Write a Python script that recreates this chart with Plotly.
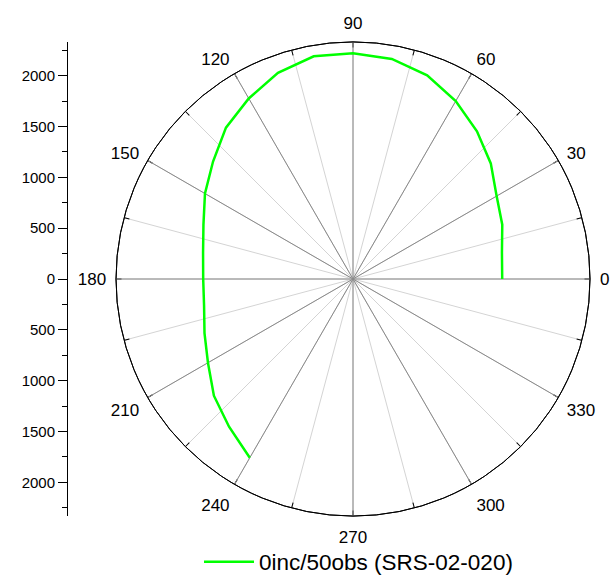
import plotly.graph_objects as go

# ---- data ----
angles = [0, 10, 20, 30, 40, 50, 60, 70, 80, 90, 100, 110, 120,
          130, 140, 150, 160, 170, 180, 190, 200, 210, 220, 230, 240]
radii = [1470, 1490, 1565, 1634, 1772, 1900, 2024, 2136, 2202, 2225, 2228, 2161, 2054,
         1947, 1800, 1684, 1568, 1500, 1476, 1490, 1557, 1650, 1789, 1900, 2034]
series_name = "0inc/50obs (SRS-02-020)"
angle_ticks = list(range(0, 360, 30))
angle_labels = [str(a) for a in angle_ticks]
radial_ticks = [-2000, -1500, -1000, -500, 0, 500, 1000, 1500, 2000]
radial_labels = [str(abs(v)) for v in radial_ticks]
radial_minor = [-2250, -1750, -1250, -750, -250, 250, 750, 1250, 1750, 2250]
r_max = 2335

W, H = 610, 577
font_family = "Liberation Sans, Arial, sans-serif"

fig = go.Figure()
# helper (invisible) so the light 15-degree grid subplot is rendered
fig.add_trace(go.Scatterpolar(r=[0], theta=[0], mode="markers", marker=dict(opacity=0),
                              showlegend=False, hoverinfo="skip", subplot="polar"))
fig.add_trace(go.Scatterpolar(
    r=radii, theta=angles, mode="lines",
    line=dict(color="#00ff00", width=2.5),
    name=series_name, subplot="polar2", showlegend=True,
))
# invisible helper so the cartesian (left radial scale) axis renders
fig.add_trace(go.Scatter(x=[0.5], y=[0], mode="markers", marker=dict(opacity=0),
                         showlegend=False, hoverinfo="skip"))

cx0, cx1 = 116 / W, 590 / W
cy0, cy1 = 1 - 516.3 / H, 1 - 41.7 / H

fig.update_layout(
    width=W, height=H,
    margin=dict(l=0, r=0, t=0, b=0, autoexpand=False),
    paper_bgcolor="white", plot_bgcolor="rgba(0,0,0,0)",
    font=dict(family=font_family, size=17, color="black"),
    showlegend=True,
    legend=dict(orientation="h", x=199 / W, xanchor="left", y=1 - 562 / H, yanchor="middle",
                font=dict(size=22.5), bgcolor="rgba(0,0,0,0)", itemwidth=50),
    polar=dict(
        domain=dict(x=[cx0, cx1], y=[cy0, cy1]),
        bgcolor="white",
        radialaxis=dict(visible=False, range=[0, r_max]),
        angularaxis=dict(rotation=0, direction="counterclockwise", dtick=15, tick0=0,
                         showgrid=True, gridcolor="#d4d4d4", gridwidth=1,
                         ticks="inside", ticklen=5, tickcolor="black",
                         showticklabels=False, showline=True, linecolor="black", linewidth=1),
    ),
    polar2=dict(
        domain=dict(x=[cx0, cx1], y=[cy0, cy1]),
        bgcolor="rgba(0,0,0,0)",
        radialaxis=dict(visible=False, range=[0, r_max]),
        angularaxis=dict(rotation=0, direction="counterclockwise",
                         tickmode="array", tickvals=angle_ticks, ticktext=angle_labels,
                         showgrid=True, gridcolor="#8a8a8a", gridwidth=1,
                         ticks="outside", ticklen=6, tickcolor="rgba(0,0,0,0)",
                         showline=True, linecolor="black", linewidth=1,
                         tickfont=dict(size=17)),
    ),
    xaxis=dict(domain=[68 / W, 0.99], range=[0, 1], visible=False, fixedrange=True),
    yaxis=dict(domain=[cy0, cy1], range=[-r_max, r_max], showline=True, linecolor="black",
               linewidth=1, ticks="outside", ticklen=9, tickcolor="black",
               tickmode="array", tickvals=radial_ticks, ticktext=radial_labels,
               showgrid=False, zeroline=False, tickfont=dict(size=15),
               minor=dict(tickmode="array", tickvals=radial_minor, ticks="outside",
                          ticklen=5, tickcolor="black", showgrid=False)),
)

fig.write_html("out.html")
